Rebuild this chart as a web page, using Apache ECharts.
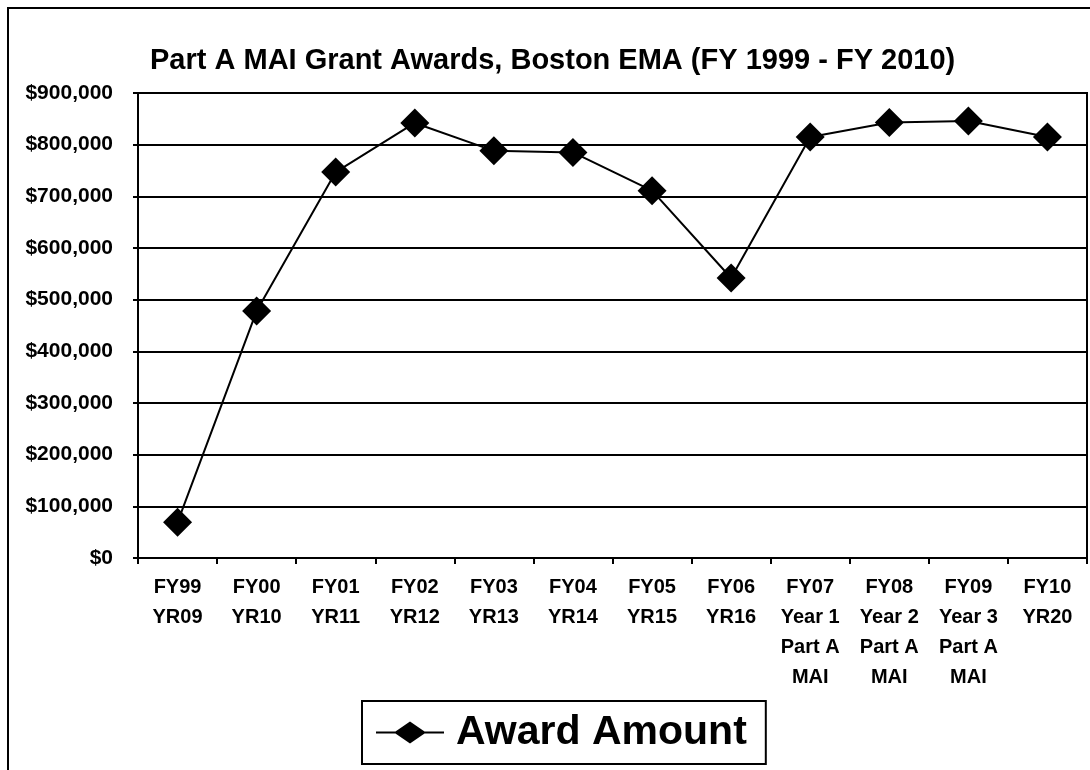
<!DOCTYPE html>
<html>
<head>
<meta charset="utf-8">
<script src="https://cdn.jsdelivr.net/npm/echarts@6/dist/echarts.min.js"></script>
<style>
html,body{margin:0;padding:0;background:#fff;}
#chart{width:1090px;height:770px;}
</style>
</head>
<body>
<div id="chart"></div>
<script>
var titleText = 'Part A MAI Grant Awards, Boston EMA (FY 1999 - FY 2010)';
var categories = [
  'FY99\nYR09', 'FY00\nYR10', 'FY01\nYR11', 'FY02\nYR12', 'FY03\nYR13', 'FY04\nYR14',
  'FY05\nYR15', 'FY06\nYR16', 'FY07\nYear 1\nPart A\nMAI', 'FY08\nYear 2\nPart A\nMAI',
  'FY09\nYear 3\nPart A\nMAI', 'FY10\nYR20'
];
var seriesName = 'Award Amount';
var awardAmounts = [69000, 478000, 747000, 842000, 788000, 785000, 711000, 542000, 815000, 843000, 846000, 815000];
var yMin = 0, yMax = 900000, yInterval = 100000;

var FONT = '"Liberation Sans", Arial, sans-serif';
function money(v) {
  var s = String(Math.round(v));
  return '$' + s.replace(/\B(?=(\d{3})+(?!\d))/g, ',');
}
// legend icon: line with a diamond in the middle
var legendIcon = 'path://M0 10L68 10L68 12L0 12Z M18 11L34 0L50 11L34 22Z';

var chart = echarts.init(document.getElementById('chart'));
chart.setOption({
  animation: false,
  backgroundColor: '#fff',
  graphic: [{
    type: 'rect',
    shape: { x: 8, y: 8, width: 1200, height: 900 },
    style: { fill: 'none', stroke: '#000', lineWidth: 2 },
    silent: true,
    z: -1
  }],
  title: {
    text: titleText,
    left: 150,
    top: 46,
    padding: 0,
    textStyle: { fontFamily: FONT, fontWeight: 'bold', fontSize: 29, color: '#000' }
  },
  legend: {
    data: [{ name: seriesName, icon: legendIcon }],
    left: 362,
    top: 701,
    padding: [11, 19, 11, 14],
    borderColor: '#000',
    borderWidth: 2,
    backgroundColor: '#fff',
    itemWidth: 68,
    itemHeight: 22,
    itemStyle: { color: '#000', borderWidth: 0 },
    lineStyle: { width: 0 },
    textStyle: { fontFamily: FONT, fontWeight: 'bold', fontSize: 41, color: '#000', padding: [0, 0, 0, 7] }
  },
  grid: {
    left: 138, right: 3, top: 93, bottom: 212,
    show: true, borderColor: '#000', borderWidth: 2, containLabel: false
  },
  xAxis: {
    type: 'category',
    data: categories,
    boundaryGap: true,
    axisLine: { lineStyle: { color: '#000', width: 2 } },
    axisTick: { show: true, length: 6, lineStyle: { color: '#000', width: 2 } },
    axisLabel: {
      interval: 0, margin: 14, color: '#000',
      fontFamily: FONT, fontWeight: 'bold', fontSize: 20, lineHeight: 30
    },
    splitLine: { show: false }
  },
  yAxis: {
    type: 'value',
    min: yMin, max: yMax, interval: yInterval,
    axisLine: { show: true, lineStyle: { color: '#000', width: 2 } },
    axisTick: { show: true, length: 5, lineStyle: { color: '#000', width: 2 } },
    axisLabel: {
      margin: 25, color: '#000', formatter: money,
      fontFamily: FONT, fontWeight: 'bold', fontSize: 21
    },
    splitLine: { show: true, lineStyle: { color: '#000', width: 2 } }
  },
  series: [{
    name: seriesName,
    type: 'line',
    data: awardAmounts,
    symbol: 'diamond',
    symbolSize: 29,
    itemStyle: { color: '#000' },
    lineStyle: { color: '#000', width: 2 }
  }]
});
</script>
</body>
</html>
